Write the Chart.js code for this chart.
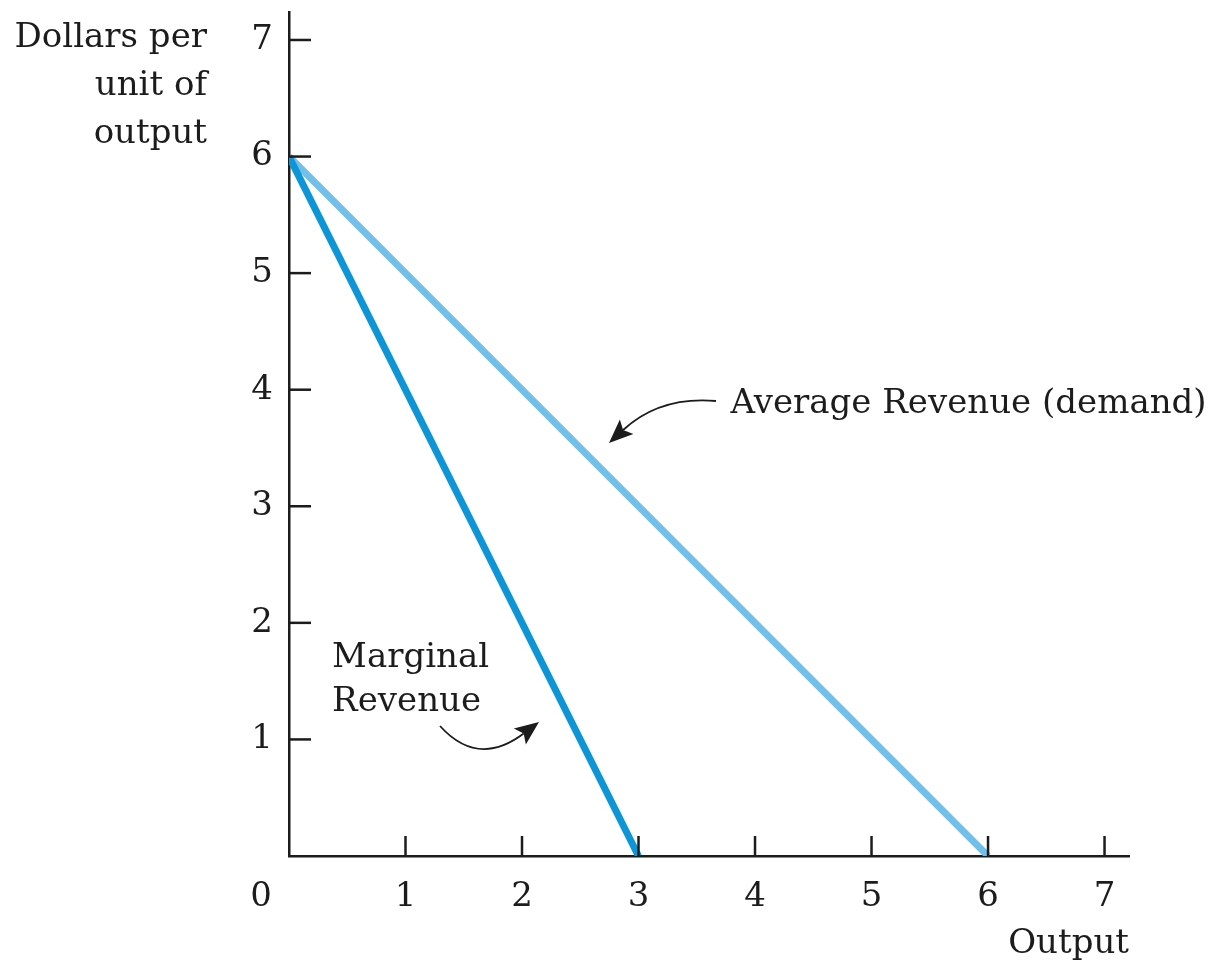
<!DOCTYPE html>
<html>
<head>
<meta charset="utf-8">
<title>Average and Marginal Revenue</title>
<script src="https://cdn.jsdelivr.net/npm/chart.js"></script>
<style>
  html, body { margin: 0; padding: 0; background: #fff; }
  canvas { display: block; }
</style>
</head>
<body>
<canvas id="revenueChart" width="1214" height="966"></canvas>
<script>
// data
const arOutput = [0, 6];
const arPrice = [6, 0];
const mrOutput = [0, 3];
const mrPrice = [6, 0];
const xTickValues = [0, 1, 2, 3, 4, 5, 6, 7];
const yTickValues = [0, 1, 2, 3, 4, 5, 6, 7];
const yTitleLines = ['Dollars per', 'unit of', 'output'];
const xTitle = 'Output';
const arLabel = 'Average Revenue (demand)';
const mrLabelLines = ['Marginal', 'Revenue'];

const FONT_SIZE = 34;
const FONT = FONT_SIZE + 'px "DejaVu Serif"';
const INK = '#1c1c1c';

const toPoints = (xs, ys) => xs.map((x, i) => ({ x: x, y: ys[i] }));

// arrow with curved shaft and filled head
function drawArrow(ctx, x0, y0, cx, cy, x1, y1) {
  ctx.save();
  ctx.strokeStyle = INK;
  ctx.fillStyle = INK;
  ctx.lineWidth = 1.8;
  const ang = Math.atan2(y1 - cy, x1 - cx);
  const headLen = 24, headW = 10;
  const bx = x1 - Math.cos(ang) * headLen * 0.8;
  const by = y1 - Math.sin(ang) * headLen * 0.8;
  ctx.beginPath();
  ctx.moveTo(x0, y0);
  ctx.quadraticCurveTo(cx, cy, bx, by);
  ctx.stroke();
  ctx.beginPath();
  ctx.moveTo(x1, y1);
  ctx.lineTo(x1 - Math.cos(ang) * headLen + Math.sin(ang) * headW,
             y1 - Math.sin(ang) * headLen - Math.cos(ang) * headW);
  ctx.lineTo(bx, by);
  ctx.lineTo(x1 - Math.cos(ang) * headLen - Math.sin(ang) * headW,
             y1 - Math.sin(ang) * headLen + Math.cos(ang) * headW);
  ctx.closePath();
  ctx.fill();
  ctx.restore();
}

const decorations = {
  id: 'decorations',
  afterDraw(chart) {
    const ctx = chart.ctx;
    const xs = chart.scales.x, ys = chart.scales.y;
    const px = v => xs.getPixelForValue(v);
    const py = v => ys.getPixelForValue(v);

    // inward tick marks
    ctx.save();
    ctx.strokeStyle = INK;
    ctx.lineWidth = 2.5;
    xTickValues.slice(1).forEach(v => {
      ctx.beginPath();
      ctx.moveTo(px(v), py(0));
      ctx.lineTo(px(v), py(0) - 20);
      ctx.stroke();
    });
    yTickValues.slice(1).forEach(v => {
      ctx.beginPath();
      ctx.moveTo(px(0), py(v));
      ctx.lineTo(px(0) + 22, py(v));
      ctx.stroke();
    });
    ctx.restore();

    ctx.save();
    ctx.font = FONT;
    ctx.fillStyle = INK;

    // origin label sits off the corner
    ctx.textAlign = 'center';
    ctx.textBaseline = 'alphabetic';
    ctx.fillText('0', px(0) - 28, py(0) + 50);

    // y axis title, right aligned, three lines
    ctx.textAlign = 'right';
    yTitleLines.forEach((t, i) => ctx.fillText(t, px(0) - 82, 47 + i * 48));

    // curve labels
    ctx.textAlign = 'left';
    ctx.fillText(arLabel, px(3.79), py(3.8));
    mrLabelLines.forEach((t, i) => ctx.fillText(t, px(0.37), py(1.62) + i * 44));
    ctx.restore();

    drawArrow(ctx, 716, 401, 660, 396, 609, 443);
    drawArrow(ctx, 440, 726, 478, 768, 539, 722);
  }
};

new Chart(document.getElementById('revenueChart').getContext('2d'), {
  type: 'scatter',
  data: {
    datasets: [
      {
        label: 'Average Revenue (demand)',
        data: toPoints(arOutput, arPrice),
        showLine: true,
        borderColor: '#72bfe9',
        borderWidth: 7,
        pointRadius: 0,
        order: 2
      },
      {
        label: 'Marginal Revenue',
        data: toPoints(mrOutput, mrPrice),
        showLine: true,
        borderColor: '#0d95d8',
        borderWidth: 7,
        pointRadius: 0,
        order: 1
      }
    ]
  },
  plugins: [decorations],
  options: {
    responsive: false,
    animation: false,
    layout: { padding: { top: 12, right: 85, left: 0, bottom: 0 } },
    plugins: {
      legend: { display: false },
      tooltip: { enabled: false }
    },
    scales: {
      x: {
        type: 'linear',
        min: 0,
        max: 7.21,
        afterFit(scale) {
          scale.height = 110;
          scale.paddingLeft = 0;
          scale.paddingRight = 0;
        },
        afterBuildTicks(scale) { scale.ticks = xTickValues.map(v => ({ value: v })); },
        grid: { drawOnChartArea: false, drawTicks: false },
        border: { display: true, color: INK, width: 2.5 },
        ticks: {
          padding: 21,
          color: INK,
          font: { family: 'DejaVu Serif', size: FONT_SIZE },
          callback: v => (v === 0 ? '' : String(v))
        },
        title: {
          display: true,
          text: xTitle,
          align: 'end',
          color: INK,
          font: { family: 'DejaVu Serif', size: FONT_SIZE },
          padding: { top: 0, bottom: 1 }
        }
      },
      y: {
        type: 'linear',
        min: 0,
        max: 7.24,
        afterFit(scale) {
          scale.width = 289;
          scale.paddingTop = 0;
          scale.paddingBottom = 0;
        },
        afterBuildTicks(scale) { scale.ticks = yTickValues.map(v => ({ value: v })); },
        grid: { drawOnChartArea: false, drawTicks: false },
        border: { display: true, color: INK, width: 2.5 },
        ticks: {
          padding: 16,
          color: INK,
          font: { family: 'DejaVu Serif', size: FONT_SIZE },
          callback: v => (v === 0 ? '' : String(v))
        }
      }
    }
  }
});
</script>
</body>
</html>
